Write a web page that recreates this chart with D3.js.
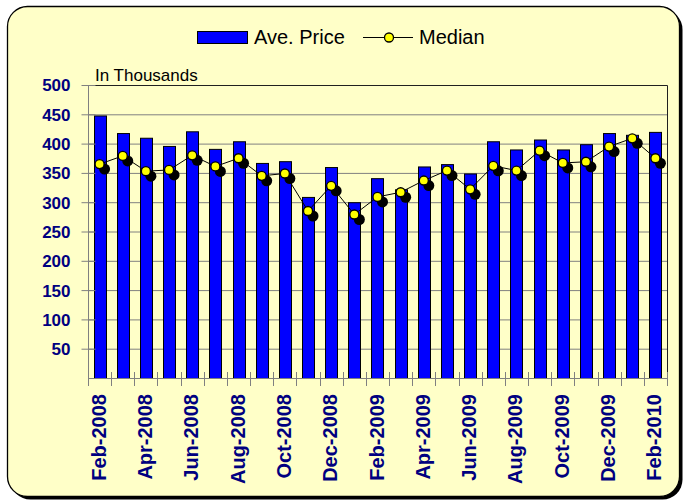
<!DOCTYPE html>
<html>
<head>
<meta charset="utf-8">
<script src="https://cdn.jsdelivr.net/npm/d3@7"></script>
<style>
  body { margin: 0; background: #fff; }
  svg { display: block; font-family: "Liberation Sans", Arial, sans-serif; }
</style>
</head>
<body>
<div id="chart"></div>
<script>
// month labels, Feb-2008 .. Feb-2010
var months = ["Feb-2008", "Mar-2008", "Apr-2008", "May-2008", "Jun-2008", "Jul-2008",
    "Aug-2008", "Sep-2008", "Oct-2008", "Nov-2008", "Dec-2008", "Jan-2009",
    "Feb-2009", "Mar-2009", "Apr-2009", "May-2009", "Jun-2009", "Jul-2009",
    "Aug-2009", "Sep-2009", "Oct-2009", "Nov-2009", "Dec-2009", "Jan-2010", "Feb-2010"];

// in thousands
var avePrice = [448, 418, 410, 396, 421, 391, 404, 367, 370, 309, 360, 300,
    341, 322, 361, 365, 349, 404, 390, 407, 390, 399, 418, 415, 420];
var median = [365, 379, 353, 355, 380, 361, 375, 345, 349, 285, 328, 279,
    309, 317, 337, 354, 322, 362, 354, 388, 367, 369, 395, 409, 375];

var yTicks = [50, 100, 150, 200, 250, 300, 350, 400, 450, 500];

var svgWidth = 684;
var svgHeight = 502;

var margin = { top: 85, right: 17, bottom: 124, left: 88 };
var width = svgWidth - margin.left - margin.right;
var height = svgHeight - margin.top - margin.bottom;

var svg = d3.select("#chart")
    .append("svg")
    .attr("width", svgWidth)
    .attr("height", svgHeight);

// chart frame with shadow
svg.append("rect")
    .attr("x", 10.5).attr("y", 9.5)
    .attr("width", 672).attr("height", 490)
    .attr("rx", 20)
    .attr("fill", "#000");
svg.append("rect")
    .attr("x", 7.5).attr("y", 6.5)
    .attr("width", 672).attr("height", 490)
    .attr("rx", 20)
    .attr("fill", "#ffffc8")
    .attr("stroke", "#000")
    .attr("stroke-width", 1.3);

var chartGroup = svg.append("g")
    .attr("transform", `translate(${margin.left}, ${margin.top})`);

var xBandScale = d3.scaleBand()
    .domain(months)
    .range([0, width])
    .paddingInner(0.48)
    .paddingOuter(0.24);

var yLinearScale = d3.scaleLinear()
    .domain([0, 500])
    .range([height, 0]);

// gridlines
chartGroup.append("g")
    .selectAll("line")
    .data(yTicks.filter(d => d < 500))
    .enter()
    .append("line")
    .attr("x1", 0)
    .attr("x2", width)
    .attr("y1", d => yLinearScale(d) + 0.5)
    .attr("y2", d => yLinearScale(d) + 0.5)
    .attr("stroke", "#808080")
    .attr("stroke-width", 1);

// plot border top + right
chartGroup.append("path")
    .attr("d", `M0,${yLinearScale(500) + 0.5}H${width + 0.5}V${height}`)
    .attr("fill", "none")
    .attr("stroke", "#202020")
    .attr("stroke-width", 1);

// bars
chartGroup.selectAll("rect.bar")
    .data(avePrice)
    .enter()
    .append("rect")
    .attr("class", "bar")
    .attr("x", (d, i) => Math.round(xBandScale(months[i])) + 0.5)
    .attr("y", d => yLinearScale(d) + 0.5)
    .attr("width", Math.round(xBandScale.bandwidth()))
    .attr("height", d => height - yLinearScale(d))
    .attr("fill", "#0000ff")
    .attr("stroke", "#000")
    .attr("stroke-width", 1);

// y axis
var leftAxis = d3.axisLeft(yLinearScale)
    .tickValues(yTicks)
    .tickSize(7)
    .tickPadding(11);

var yAxis = chartGroup.append("g")
    .attr("transform", "translate(0.5,0)")
    .call(leftAxis);
yAxis.select(".domain")
    .attr("d", `M0,0V${height + 8}`)
    .attr("stroke", "#808080");
yAxis.selectAll(".tick line")
    .attr("x1", 7)
    .attr("stroke", "#808080");
yAxis.selectAll(".tick text")
    .attr("fill", "#000080")
    .attr("font-size", "17px")
    .attr("font-weight", "bold")
    .attr("font-family", "'Liberation Sans', Arial, sans-serif")
    .attr("dy", "0.35em");

// x axis: line + ticks at category boundaries
var step = xBandScale.step();
var boundaries = d3.range(months.length + 1).map(i => i * step);

chartGroup.append("line")
    .attr("x1", 0).attr("x2", width)
    .attr("y1", height + 0.5).attr("y2", height + 0.5)
    .attr("stroke", "#808080");

chartGroup.append("g")
    .selectAll("line")
    .data(boundaries.slice(1))
    .enter()
    .append("line")
    .attr("x1", d => Math.round(d) + 0.5)
    .attr("x2", d => Math.round(d) + 0.5)
    .attr("y1", height - 6)
    .attr("y2", height + 8)
    .attr("stroke", "#808080");

chartGroup.append("g")
    .selectAll("text")
    .data(months.filter((d, i) => i % 2 === 0))
    .enter()
    .append("text")
    .attr("transform", d => `translate(${xBandScale(d) + xBandScale.bandwidth() / 2 + 6}, ${height + 16}) rotate(-90)`)
    .attr("text-anchor", "end")
    .attr("fill", "#000080")
    .attr("font-size", "20px")
    .attr("font-weight", "bold")
    .text(d => d);

// median line
var cx = (d, i) => xBandScale(months[i]) + xBandScale.bandwidth() / 2;

var line = d3.line()
    .x(cx)
    .y(d => yLinearScale(d));

chartGroup.append("path")
    .datum(median)
    .attr("d", line)
    .attr("fill", "none")
    .attr("stroke", "#000")
    .attr("stroke-width", 1);

chartGroup.selectAll("circle.shadow")
    .data(median)
    .enter()
    .append("circle")
    .attr("class", "shadow")
    .attr("cx", (d, i) => cx(d, i) + 5)
    .attr("cy", d => yLinearScale(d) + 5)
    .attr("r", 5.5)
    .attr("fill", "#000");

chartGroup.selectAll("circle.dot")
    .data(median)
    .enter()
    .append("circle")
    .attr("class", "dot")
    .attr("cx", cx)
    .attr("cy", d => yLinearScale(d))
    .attr("r", 4.5)
    .attr("fill", "#ffff00")
    .attr("stroke", "#000")
    .attr("stroke-width", 1.3);

// "In Thousands"
chartGroup.append("text")
    .attr("x", 7)
    .attr("y", -4)
    .attr("font-size", "17px")
    .attr("fill", "#000")
    .text("In Thousands");

// legend
var legend = svg.append("g");
legend.append("rect")
    .attr("x", 197.5).attr("y", 31.5)
    .attr("width", 50).attr("height", 12)
    .attr("fill", "#0000ff")
    .attr("stroke", "#000");
legend.append("text")
    .attr("x", 254).attr("y", 44)
    .attr("font-size", "20px")
    .text("Ave. Price");
legend.append("line")
    .attr("x1", 363).attr("x2", 413)
    .attr("y1", 37.5).attr("y2", 37.5)
    .attr("stroke", "#000");
legend.append("circle")
    .attr("cx", 389).attr("cy", 37.5)
    .attr("r", 4.5)
    .attr("fill", "#ffff00")
    .attr("stroke", "#000")
    .attr("stroke-width", 1.3);
legend.append("text")
    .attr("x", 419).attr("y", 44)
    .attr("font-size", "20px")
    .text("Median");
</script>
</body>
</html>
